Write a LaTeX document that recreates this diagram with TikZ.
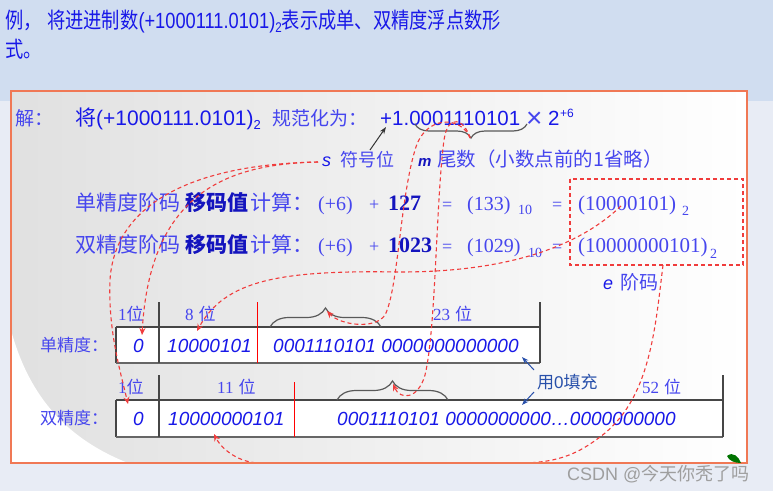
\documentclass[tikz,border=0pt]{standalone}
\usepackage{fontspec}
\setmainfont{Liberation Sans}
\newfontfamily\cjk{Noto Sans CJK SC}
\newfontfamily\ser{Liberation Serif}
\usetikzlibrary{arrows.meta,decorations.pathreplacing}
\definecolor{tblue}{RGB}{24,24,232}
\definecolor{lblue}{RGB}{70,70,238}
\definecolor{dblue}{RGB}{20,20,190}
\definecolor{rdash}{RGB}{240,60,60}
\definecolor{frameor}{RGB}{240,120,85}
\definecolor{topband}{RGB}{208,221,240}
\definecolor{bgl}{RGB}{232,236,245}
\definecolor{tline}{RGB}{70,70,70}
\definecolor{arrblue}{RGB}{40,80,170}
\newcommand\fs[1]{\fontsize{#1}{#1}\selectfont}
\begin{document}
\begin{tikzpicture}[x=1pt,y=-1pt,
  t/.style={anchor=base west, inner sep=0pt, text=tblue},
  lt/.style={t, text=lblue},
  dt/.style={t, text=dblue},
  rd/.style={draw=rdash, line width=1.1pt, dash pattern=on 4pt off 3pt, -{Stealth[length=7pt,width=6pt]}},
  brc/.style={draw=black!65, line width=1.2pt, decorate},
  tbl/.style={draw=tline, line width=1.1pt},
  redv/.style={draw=red, line width=1pt},
  lab/.style={t, text=lblue, font=\fs{17}},
  cell/.style={t, font=\fs{19}\itshape},
]
\useasboundingbox (0,0) rectangle (773,491);
% backgrounds
\fill[bgl] (0,0) rectangle (773,491);
\fill[topband] (0,0) rectangle (773,101);
\shade[left color=black!12, right color=white] (11,91) rectangle (747,463);
\fill[white] (11,330) .. controls (30,400) and (70,440) .. (128,463) -- (11,463) -- cycle;

% title
\node[t] (ti1) at (5,28) {\scalebox{0.83}[1]{\fs{22}\cjk 例，}};
\node[t] (ti2) at (47,28) {\scalebox{0.83}[1]{\fs{22}{\cjk 将进进制数}(+1000111.0101)\raisebox{-4pt}{\fs{14}2}{\cjk 表示成单、双精度浮点数形}}};
\node[t] (ti3) at (5,57) {\scalebox{0.83}[1]{\fs{22}\cjk 式。}};

% line jie
\node[lt] (jie) at (15,125) {\fs{19}\cjk 解：};
\node[t] (jiang) at (75,125) {\fs{21}{\cjk 将}(+1000111.0101)\raisebox{-4pt}{\fs{13}2}};
\node[lt] (gfh) at (272,125) {\fs{19}\cjk 规范化为：};
\node[t] (mant) at (380,125) {\fs{20.5}+1.0001110101};
\node[lt] (times) at (526,127) {\fs{28}×};
\node[t] (two) at (548,125) {\fs{20.5}2};
\node[t] (exp) at (560,117) {\fs{12}+6};

% brace under mantissa
\draw[brc, decoration={brace, amplitude=14pt}] (527,124) -- (415,124);

% s / m labels
\node[t] (s) at (322,166) {\fs{18}\itshape s};
\node[lt] (fhw) at (340,166) {\fs{18}\cjk 符号位};
\node[dt] (m) at (418,166) {\fs{15}\bfseries\itshape m};
\node[lt] (ws) at (437,166) {\fs{19.5}\cjk 尾数（小数点前的1省略）};
\coordinate (sArrS) at (370,150);
\coordinate (plusPt) at (386,127);
\draw[black!80, line width=1pt, -{Stealth[length=7pt,width=5pt]}] (sArrS) -- (plusPt);

% row single
\node[lt] (dj1) at (75,210) {\fs{21}\cjk 单精度阶码};
\node[dt] (ym1) at (185,210) {\fs{21}\cjk\bfseries 移码值};
\node[lt] (js1) at (250,210) {\fs{21}\cjk 计算：};
\node[lt] (p61) at (318,210) {\fs{20}\ser (+6)};
\node[lt] (pl1) at (369,210) {\fs{18}\ser +};
\node[dt] (n127) at (388,210) {\fs{22}\ser\bfseries 127};
\node[lt] (eq1) at (442,210) {\fs{18}\ser =};
\node[lt] (d133) at (467,210) {\fs{20}\ser (133)};
\node[lt] (s10a) at (518,214) {\fs{14}\ser 10};
\node[lt] (eq2) at (552,210) {\fs{18}\ser =};
\node[lt] (b1) at (578,210) {\fs{21}\ser (10000101)};
\node[lt] (s2a) at (682,215) {\fs{14}\ser 2};

% row double
\node[lt] (dj2) at (75,252) {\fs{21}\cjk 双精度阶码};
\node[dt] (ym2) at (185,252) {\fs{21}\cjk\bfseries 移码值};
\node[lt] (js2) at (250,252) {\fs{21}\cjk 计算：};
\node[lt] (p62) at (318,252) {\fs{20}\ser (+6)};
\node[lt] (pl2) at (369,252) {\fs{18}\ser +};
\node[dt] (n1023) at (388,252) {\fs{22}\ser\bfseries 1023};
\node[lt] (eq3) at (442,252) {\fs{18}\ser =};
\node[lt] (d1029) at (467,252) {\fs{20}\ser (1029)};
\node[lt] (s10b) at (528,257) {\fs{14}\ser 10};
\node[lt] (eq4) at (552,252) {\fs{18}\ser =};
\node[lt] (b2) at (578,252) {\fs{21}\ser (10000000101)};
\node[lt] (s2b) at (710,258) {\fs{14}\ser 2};

% exponent box
\draw[draw=rdash, line width=1.1pt, dash pattern=on 4pt off 3pt] (570,179) rectangle (743,265);
\node[t] (e) at (603,289) {\fs{18}\itshape e};
\node[lt] (jm) at (620,289) {\fs{19}\cjk 阶码};

% table single
\fill[white] (116,327) rectangle (540,363);
\draw[tbl] (116,327) -- (540,327);
\draw[tbl] (116,327) -- (116,363);
\draw[tbl, line width=1.6pt, draw=black!60] (116,363) -- (540,363);
\draw[tbl] (159,302) -- (159,363);
\draw[tbl] (540,302) -- (540,363);
\draw[redv] (257,302) -- (257,363);
\draw[brc, decoration={brace, amplitude=19pt}] (270,327) -- (381,327);
\node[lab] (l1a) at (118,320) {\ser 1{\cjk 位}};
\node[lab] (l8) at (185,320) {\ser 8\hspace{5pt}{\cjk 位}};
\node[lab] (l23) at (433,320) {\ser 23\hspace{5pt}{\cjk 位}};
\node[lt] (dj) at (40,351) {\fs{17}\cjk 单精度：};
\node[cell] (c0a) at (133,352) {0};
\node[cell] (c1a) at (167,352) {10000101};
\node[cell] (c2a) at (273,352) {0001110101 0000000000000};

% table double
\fill[white] (116,400) rectangle (723,437);
\draw[tbl] (116,400) -- (723,400);
\draw[tbl] (116,400) -- (116,437);
\draw[tbl, line width=1.6pt, draw=black!60] (116,437) -- (723,437);
\draw[tbl] (159,375) -- (159,437);
\draw[tbl] (723,375) -- (723,437);
\draw[redv] (294,382) -- (294,437);
\draw[brc, decoration={brace, amplitude=19pt}] (337,400) -- (448,400);
\node[lab] (l1b) at (118,393) {\ser 1{\cjk 位}};
\node[lab] (l11) at (217,393) {\ser 11\hspace{5pt}{\cjk 位}};
\node[lab] (l52) at (642,393) {\ser 52\hspace{5pt}{\cjk 位}};
\node[lt] (sj) at (40,424) {\fs{17}\cjk 双精度：};
\node[cell] (c0b) at (133,425) {0};
\node[cell] (c1b) at (168,425) {10000000101};
\node[cell] (c2b) at (337,425) {0001110101 0000000000…0000000000};

% fill note
\node[t, text=arrblue] (fill0) at (537,388) {\fs{17}{\cjk 用}0{\cjk 填充}};
\coordinate (f1s) at (534,370);
\coordinate (f1e) at (522,357);
\coordinate (f2s) at (534,392);
\coordinate (f2e) at (522,405);
\draw[arrblue, line width=1pt, -{Stealth[length=7pt,width=5pt]}] (f1s) -- (f1e);
\draw[arrblue, line width=1pt, -{Stealth[length=7pt,width=5pt]}] (f2s) -- (f2e);

% red dashed connectors
\coordinate (sStart) at (318,162);
\coordinate (zeroA) at (142,335);
\coordinate (zeroB) at (128,404);
\coordinate (mStart) at (470,138);
\coordinate (brA) at (327,311);
\coordinate (brB) at (393,384);
\coordinate (eA) at (621,206);
\coordinate (expA) at (197,331);
\coordinate (eB) at (663,265);
\coordinate (expB) at (214,434);
\draw[rd] (sStart) .. controls (230,164) and (150,190) .. (zeroA);
\draw[rd] (sStart) .. controls (200,164) and (115,200) .. (110,280) .. controls (108,330) and (120,370) .. (zeroB);
\draw[rd] (mStart) .. controls (462,116) and (425,114) .. (415,150) .. controls (400,200) and (398,290) .. (385,315) .. controls (375,330) and (340,325) .. (brA);
\draw[rd] (mStart) .. controls (465,120) and (448,112) .. (444,140) .. controls (436,200) and (436,330) .. (425,375) .. controls (418,400) and (400,400) .. (brB);
\draw[rd] (eA) .. controls (575,250) and (500,272) .. (400,272) .. controls (280,270) and (225,280) .. (expA);
\draw[rd] (eB) .. controls (655,330) and (650,400) .. (600,437) .. controls (580,452) and (560,463) .. (520,463) -- (260,463) .. controls (240,463) and (222,450) .. (expB);

% frame
\draw[frameor, line width=1.4pt] (11,91) rectangle (747,463);

% leaf
\fill[green!45!black] (727,456) .. controls (733,451) and (739,457) .. (741,463) .. controls (735,463) and (729,461) .. cycle;

% watermark
\node[t, text=black!38] (wm) at (567,480) {\fs{18}CSDN @{\cjk 今天你秃了吗}};
\end{tikzpicture}
\end{document}
